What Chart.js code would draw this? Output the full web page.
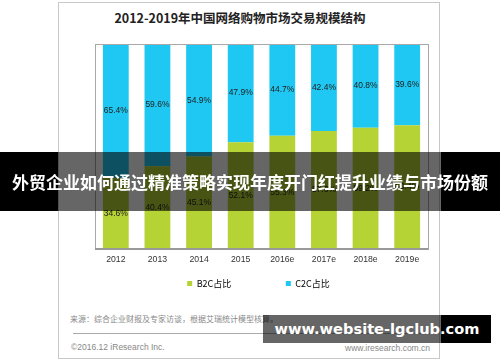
<!DOCTYPE html>
<html>
<head>
<meta charset="utf-8">
<script src="https://cdn.jsdelivr.net/npm/chart.js@4/dist/chart.umd.min.js"></script>
<style>
  body { margin: 0; background: #fff; width: 500px; height: 362px; overflow: hidden; position: relative; }
  #frame { position: absolute; left: 58px; top: 2px; width: 382px; height: 357px; border: 1px solid #c8c8c8; box-sizing: border-box; }
  #title { position: absolute; left: 0; width: 480px; top: 8px; text-align: center; font: bold 12.5px "Noto Sans CJK SC", sans-serif; color: #222; }
  #wrap { position: absolute; left: 58px; top: 2px; width: 382px; height: 300px; }
  .foot { position: absolute; font-family: "Noto Sans CJK SC", sans-serif; color: #888; white-space: nowrap; }
  #rule { position: absolute; left: 73px; top: 333px; width: 357px; height: 1px; background: #aaa; }
  #banner { position: absolute; left: 0; top: 152px; width: 500px; height: 59px;
    background: linear-gradient(to right, #000 58px, rgba(0,0,0,0.6) 58px, rgba(0,0,0,0.6) 441px, #000 441px);
    color: #fff; font: bold 17px "Noto Sans CJK SC", sans-serif; text-align: center; line-height: 59px; white-space: nowrap; }
  #mark { position: absolute; left: 263px; top: 315px; width: 228px; height: 28px;
    background: linear-gradient(to right, rgba(0,0,0,0.6) 178px, #000 178px);
    color: #fff; font: bold 14.6px "DejaVu Sans", sans-serif; text-align: center; line-height: 28px; white-space: nowrap; }
</style>
</head>
<body>
<div id="frame"></div>
<div id="title">2012-2019年中国网络购物市场交易规模结构</div>
<div id="wrap"><canvas id="chart"></canvas></div>
<div class="foot" style="left:70px; top:313px; font-size:8px;">来源：综合企业财报及专家访谈，根据艾瑞统计模型核算。</div>
<div id="rule"></div>
<div class="foot" style="left:71px; top:342px; font-size:8.5px; font-family:'Liberation Sans',sans-serif;">©2016.12 iResearch Inc.</div>
<div class="foot" style="left:345px; top:343px; font-size:8.5px; font-family:'Liberation Sans',sans-serif;">www.iresearch.com.cn</div>
<div id="banner">外贸企业如何通过精准策略实现年度开门红提升业绩与市场份额</div>
<div id="mark">www.website-lgclub.com</div>
<script>
// 年份（e = 预测）
const years = ['2012', '2013', '2014', '2015', '2016e', '2017e', '2018e', '2019e'];
const b2cShare = [34.6, 40.4, 45.1, 52.1, 55.3, 57.6, 59.2, 60.4];
const c2cShare = [65.4, 59.6, 54.9, 47.9, 44.7, 42.4, 40.8, 39.6];
const seriesNames = ['B2C占比', 'C2C占比'];
const yTickValues = [0, 10, 20, 30, 40, 50, 60, 70, 80, 90, 100];

const tickFont = { family: '"Liberation Sans", "Noto Sans CJK SC", sans-serif', size: 8.7 };

// 柱子中间的百分比
const valueLabels = {
  id: 'valueLabels',
  afterDatasetsDraw(chart) {
    const ctx = chart.ctx;
    ctx.save();
    ctx.font = '8.5px "Liberation Sans", sans-serif';
    ctx.fillStyle = '#222';
    ctx.textAlign = 'center';
    ctx.textBaseline = 'middle';
    chart.data.datasets.forEach((ds, i) => {
      chart.getDatasetMeta(i).data.forEach((bar, j) => {
        const p = bar.getProps(['x', 'y', 'base'], true);
        ctx.fillText(ds.data[j].toFixed(1) + '%', p.x, (p.y + p.base) / 2);
      });
    });
    ctx.restore();
  }
};

// 绘图区外框
const plotFrame = {
  id: 'plotFrame',
  afterDatasetsDraw(chart) {
    const a = chart.chartArea;
    const ctx = chart.ctx;
    ctx.save();
    ctx.strokeStyle = '#a8a8a8';
    ctx.lineWidth = 1;
    ctx.strokeRect(Math.round(a.left) + 0.5, Math.round(a.top) + 0.5, Math.round(a.right - a.left), Math.round(a.bottom - a.top));
    ctx.strokeStyle = '#999';
    ctx.lineWidth = 2;
    ctx.beginPath();
    ctx.moveTo(a.left, Math.round(a.bottom));
    ctx.lineTo(a.right, Math.round(a.bottom));
    ctx.stroke();
    ctx.restore();
  }
};

new Chart(document.getElementById('chart'), {
  type: 'bar',
  data: {
    labels: years,
    datasets: [{
      label: seriesNames[0],
      data: b2cShare,
      backgroundColor: '#b5d334',
      categoryPercentage: 1,
      barPercentage: 0.62,
    }, {
      label: seriesNames[1],
      data: c2cShare,
      backgroundColor: '#1fc8f2',
      categoryPercentage: 1,
      barPercentage: 0.62,
    }]
  },
  options: {
    responsive: true,
    maintainAspectRatio: false,
    animation: false,
    layout: { padding: { left: 31, right: 12, top: 42, bottom: 4 } },
    scales: {
      x: {
        stacked: true,
        grid: { display: false, drawTicks: false },
        border: { display: false },
        ticks: { font: tickFont, color: '#333', padding: 5 },
      },
      y: {
        stacked: true,
        min: 0,
        max: 100,
        afterFit: (s) => { s.width = 6; },
        afterBuildTicks: (s) => { s.ticks = yTickValues.map(v => ({ value: v })); },
        grid: { display: false, drawTicks: false },
        border: { display: false },
        ticks: { font: tickFont, color: '#333', padding: 7, callback: (v) => v + '%' },
      }
    },
    plugins: {
      legend: {
        position: 'bottom',
        labels: {
          boxWidth: 5,
          boxHeight: 5,
          padding: 9.5,
          color: '#444',
          font: { family: '"Noto Sans CJK SC", sans-serif', size: 9 },
          generateLabels: (chart) => chart.data.datasets.map((ds, i) => ({
            text: i === 0 ? ds.label + '\u3000\u3000\u3000\u3000\u3000' : ds.label,
            fillStyle: ds.backgroundColor,
            strokeStyle: ds.backgroundColor,
            lineWidth: 0,
            datasetIndex: i,
          })),
        },
      },
      tooltip: { enabled: false },
    },
  },
  plugins: [valueLabels, plotFrame],
});
</script>
</body>
</html>
